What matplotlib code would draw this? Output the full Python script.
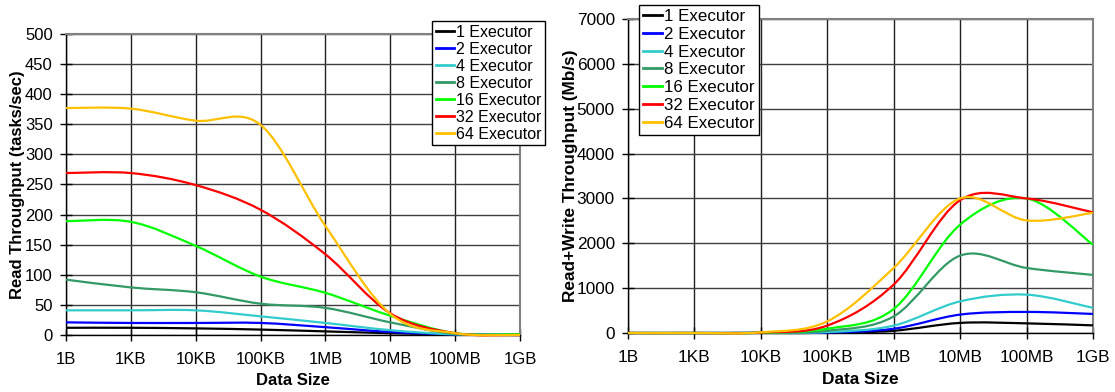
import numpy as np
import matplotlib
matplotlib.use("Agg")
import matplotlib.pyplot as plt
from matplotlib.path import Path
from matplotlib.patches import PathPatch
from matplotlib.lines import Line2D

plt.rcParams['font.family'] = ['Liberation Sans', 'DejaVu Sans']

# categorias del eje x
sizes = ['1B', '1KB', '10KB', '100KB', '1MB', '10MB', '100MB', '1GB']
labels = ['1 Executor', '2 Executor', '4 Executor', '8 Executor',
          '16 Executor', '32 Executor', '64 Executor']
colors = ['#000000', '#0000FF', '#33CCCC', '#339966', '#00FF00', '#FF0000', '#FFC000']

# Read Throughput (tasks/sec)
read_1 = [12, 12, 11, 9, 6, 3, 1, 0]
read_2 = [21, 20, 20, 20, 13, 5, 1, 0]
read_4 = [41, 41, 41, 31, 20, 8, 1, 1]
read_8 = [92, 79, 71, 52, 45, 21, 2, 1]
read_16 = [189, 188, 148, 97, 70, 32, 3, 1]
read_32 = [269, 269, 249, 208, 134, 36, 3, 0]
read_64 = [377, 376, 356, 349, 181, 35, 3, 0]

# Read+Write Throughput (Mb/s)
rw_1 = [0, 0, 1, 5, 50, 225, 215, 170]
rw_2 = [0, 0, 2, 10, 95, 410, 470, 425]
rw_4 = [0, 0, 3, 20, 165, 705, 855, 560]
rw_8 = [0, 0, 5, 50, 370, 1725, 1450, 1295]
rw_16 = [0, 0, 5, 95, 535, 2415, 3000, 1970]
rw_32 = [0, 0, 10, 165, 1080, 2960, 3000, 2690]
rw_64 = [0, 0, 15, 260, 1450, 3000, 2510, 2680]


#   Curva suavizada (estilo Excel) con segmentos Bezier entre los puntos
def curva_suave(x, y):
    pts = np.column_stack([x, y]).astype(float)
    ext = np.vstack([pts[0], pts, pts[-1]])
    verts = [pts[0]]
    codes = [Path.MOVETO]
    for i in range(len(pts) - 1):
        p0, p1, p2, p3 = ext[i], ext[i + 1], ext[i + 2], ext[i + 3]
        verts += [p1 + (p2 - p0) / 6, p2 - (p3 - p1) / 6, p2]
        codes += [Path.CURVE4] * 3
    return Path(verts, codes)


def panel(ax, series, ymax, ystep, ylabel, fs, lab_x):
    x = np.arange(len(sizes))
    for s, c in zip(series, colors):
        ax.add_patch(PathPatch(curva_suave(x, s), fill=False, edgecolor=c,
                               lw=1.6, zorder=3, clip_on=False,
                               capstyle='butt', joinstyle='round'))
    ax.set_xlim(0, len(sizes) - 1)
    ax.set_ylim(0, ymax)
    ax.set_xticks(x)
    ax.set_xticklabels(sizes)
    ax.set_yticks(np.arange(0, ymax + 1, ystep))
    ax.tick_params(direction='inout', length=9, width=1, labelsize=fs,
                   color='black')
    ax.tick_params(axis='x', pad=8)
    ax.tick_params(axis='y', pad=5)
    ax.yaxis.grid(True, color='#404040', lw=1)
    ax.xaxis.grid(True, color='#202020', lw=1)
    ax.set_axisbelow(True)
    for side in ['top', 'right']:
        ax.spines[side].set_color('#808080')
        ax.spines[side].set_linewidth(1.5)
    for side in ['left', 'bottom']:
        ax.spines[side].set_color('black')
        ax.spines[side].set_linewidth(1)
    ax.set_xlabel('Data Size', fontsize=fs, fontweight='bold')
    ax.set_ylabel(ylabel, fontsize=fs, fontweight='bold')
    ax.yaxis.set_label_coords(lab_x, 0.5)
    ax.xaxis.set_label_coords(0.5, -0.125)


fig = plt.figure(figsize=(11.15, 3.92), dpi=100)
ax1 = fig.add_axes([0.0592, 0.1454, 0.4072, 0.7679])
ax2 = fig.add_axes([0.5632, 0.1505, 0.4170, 0.8010])

panel(ax1, [read_1, read_2, read_4, read_8, read_16, read_32, read_64],
      500, 50, 'Read Throughput (tasks/sec)', 12, -0.09)
panel(ax2, [rw_1, rw_2, rw_4, rw_8, rw_16, rw_32, rw_64],
      7000, 1000, 'Read+Write Throughput (Mb/s)', 12.4, -0.107)

handles = [Line2D([], [], color=c, lw=2) for c in colors]
for ax, pos, fs, sp in [(ax1, (0.3874, 0.9464), 11.5, 0.12),
                        (ax2, (0.5731, 0.9872), 12.2, 0.16)]:
    leg = ax.legend(handles, labels, loc='upper left', bbox_to_anchor=pos,
                    bbox_transform=fig.transFigure, borderaxespad=0,
                    fontsize=fs, fancybox=False, framealpha=1,
                    edgecolor='black', handlelength=1.1, handletextpad=0.15,
                    labelspacing=sp, borderpad=0.25)
    leg.get_frame().set_linewidth(1)
    leg.set_zorder(5)

fig.savefig('out.png', dpi=100)
